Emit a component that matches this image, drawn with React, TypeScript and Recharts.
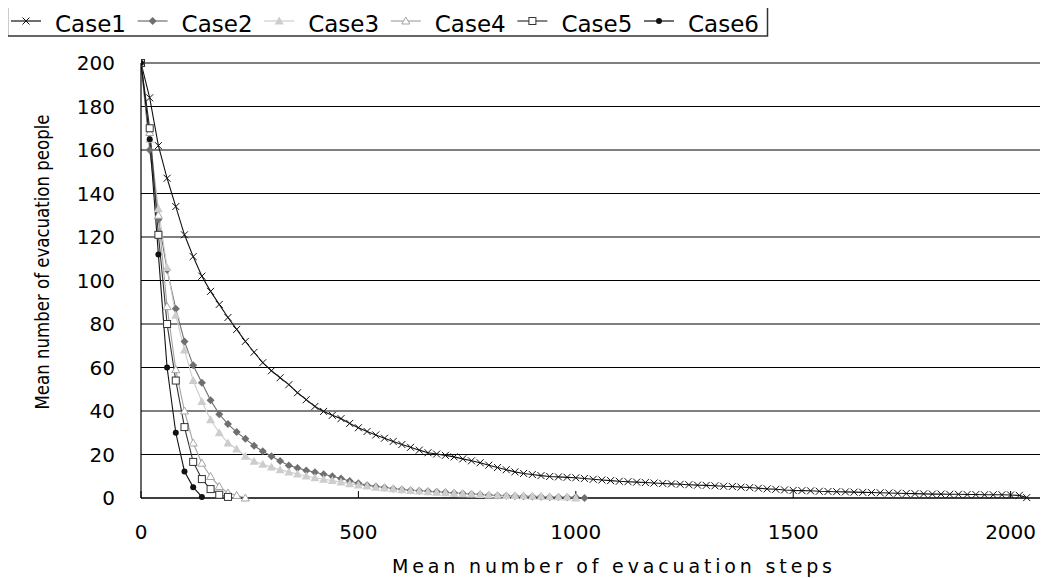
import React from 'react';
import { LineChart, Line, XAxis, YAxis, CartesianGrid, Label } from 'recharts';

// step counts shared by every case (a point every 20 steps)
const steps = [
  0, 20, 40, 60, 80, 100, 120, 140, 160, 180, 200, 220, 240, 260, 280, 300, 320, 340, 360, 380,
  400, 420, 440, 460, 480, 500, 520, 540, 560, 580, 600, 620, 640, 660, 680, 700, 720, 740, 760, 780,
  800, 820, 840, 860, 880, 900, 920, 940, 960, 980, 1000, 1020, 1040, 1060, 1080, 1100, 1120, 1140, 1160, 1180,
  1200, 1220, 1240, 1260, 1280, 1300, 1320, 1340, 1360, 1380, 1400, 1420, 1440, 1460, 1480, 1500, 1520, 1540, 1560, 1580,
  1600, 1620, 1640, 1660, 1680, 1700, 1720, 1740, 1760, 1780, 1800, 1820, 1840, 1860, 1880, 1900, 1920, 1940, 1960, 1980,
  2000, 2020, 2037,
];

const case1 = [
  200, 184, 162, 147, 134, 121, 111, 102, 95, 89, 83, 77.5, 72, 67, 62.2, 58.5, 55.3, 52.1, 48.4, 45.2,
  42.1, 39.8, 38, 36.5, 34.3, 32.3, 30.6, 29, 27.5, 26, 24.6, 23.3, 22, 20.8, 20.2, 19.6, 18.9, 18, 17.1, 16.2,
  15.1, 14, 13, 12, 11.3, 10.8, 10.3, 9.9, 9.7, 9.5, 9.3, 9, 8.6, 8.3, 8, 7.7, 7.5, 7.3, 7.1, 6.9,
  6.7, 6.5, 6.3, 6.1, 5.9, 5.8, 5.6, 5.4, 5.3, 5, 4.8, 4.5, 4.2, 4, 3.7, 3.5, 3.4, 3.3, 3.1, 3,
  2.9, 2.8, 2.7, 2.6, 2.5, 2.4, 2.3, 2.2, 2.1, 2, 1.9, 1.8, 1.8, 1.7, 1.7, 1.6, 1.6, 1.5, 1.5, 1.5,
  1.4, 1.2, 0.2,
];

const case2 = [
  200, 160, 128, 105, 87, 72, 61, 53, 45, 38.5, 34, 30.3, 27.2, 24, 21.5, 19.2, 17, 15, 13.8, 12.7,
  11.8, 10.9, 10, 9, 7.8, 6.8, 5.9, 5.3, 4.8, 4.3, 3.9, 3.6, 3.3, 3.1, 2.9, 2.6, 2.3, 2.1, 1.8, 1.6,
  1.3, 1.1, 1, 0.9, 0.8, 0.7, 0.6, 0.5, 0.5, 0.4, 0.3, 0,
];

const case3 = [
  200, 165, 133, 106, 84, 68, 54, 44.4, 36, 30, 25.3, 22.5, 19.2, 16.9, 15.5, 14.2, 13, 12, 11, 10.1,
  9.3, 8.6, 8, 7.3, 6.6, 6, 5.5, 5, 4.6, 4.2, 3.8, 3.5, 3.2, 2.9, 2.6, 2.4, 2.2, 2, 1.8, 1.6,
  1.4, 1.3, 1.2, 1.1, 1, 0.9, 0.8, 0.7, 0.6, 0.5, 0,
];

const case4 = [200, 168, 130, 88, 59, 40, 25.3, 16, 9.9, 5.3, 2.3, 1.2, 0];

const case5 = [200, 170, 121, 80, 54, 32.6, 16.6, 8.7, 4.1, 1.5, 0.5];

const case6 = [200, 165, 112, 60, 30, 12.2, 5, 0.5];

const caseNames = ['Case1', 'Case2', 'Case3', 'Case4', 'Case5', 'Case6'];
const xTicks = [0, 500, 1000, 1500, 2000];
const yTicks = [0, 20, 40, 60, 80, 100, 120, 140, 160, 180, 200];

const toPoints = (values: number[]) => values.map((y, i) => ({ x: steps[i], y }));

type MarkerKind = 'cross' | 'diamond' | 'triangle' | 'triangleOpen' | 'square' | 'circle';

const series: { name: string; values: number[]; color: string; marker: MarkerKind }[] = [
  { name: caseNames[0], values: case1, color: '#111111', marker: 'cross' },
  { name: caseNames[1], values: case2, color: '#6f6f6f', marker: 'diamond' },
  { name: caseNames[2], values: case3, color: '#cdcdcd', marker: 'triangle' },
  { name: caseNames[3], values: case4, color: '#a5a5a5', marker: 'triangleOpen' },
  { name: caseNames[4], values: case5, color: '#333333', marker: 'square' },
  { name: caseNames[5], values: case6, color: '#111111', marker: 'circle' },
];

const Marker = ({ kind, cx, cy, color }: { kind: MarkerKind; cx: number; cy: number; color: string }) => {
  switch (kind) {
    case 'cross':
      return (
        <path
          d={`M${cx - 3.5},${cy - 3.5}L${cx + 3.5},${cy + 3.5}M${cx - 3.5},${cy + 3.5}L${cx + 3.5},${cy - 3.5}`}
          stroke={color}
          strokeWidth={1}
          fill="none"
        />
      );
    case 'diamond':
      return <path d={`M${cx},${cy - 4}L${cx + 4},${cy}L${cx},${cy + 4}L${cx - 4},${cy}Z`} fill={color} stroke="none" />;
    case 'triangle':
      return <path d={`M${cx},${cy - 4.5}L${cx + 4.5},${cy + 3.5}L${cx - 4.5},${cy + 3.5}Z`} fill={color} stroke="none" />;
    case 'triangleOpen':
      return (
        <path d={`M${cx},${cy - 4}L${cx + 4},${cy + 3}L${cx - 4},${cy + 3}Z`} fill="#fff" stroke={color} strokeWidth={1} />
      );
    case 'square':
      return <rect x={cx - 3.5} y={cy - 3.5} width={7} height={7} fill="#fff" stroke={color} strokeWidth={1} />;
    default:
      return <circle cx={cx} cy={cy} r={3} fill={color} />;
  }
};

const tickStyle = { fontFamily: 'DejaVu Sans', fontSize: 20, fill: '#000' };

const YTitle = () => (
  <text
    x={0}
    y={0}
    transform="translate(41, 254) rotate(-90)"
    textAnchor="middle"
    fontFamily="DejaVu Sans"
    fontSize={19}
    fill="#000"
    textLength={295}
    lengthAdjust="spacingAndGlyphs"
  >
    Mean number of evacuation people
  </text>
);

const XTitle = () => (
  <text
    x={604}
    y={565}
    textAnchor="middle"
    fontFamily="DejaVu Sans"
    fontSize={19}
    fill="#000"
    textLength={440}
    lengthAdjust="spacing"
  >
    Mean number of evacuation steps
  </text>
);

const LegendBox = () => (
  <svg width={800} height={44} style={{ position: 'absolute', left: -8, top: -8 }}>
    <rect x={7.5} y={4.5} width={760} height={31.5} fill="#fff" stroke="#333" strokeWidth={1.5} />
    {series.map((s, i) => {
      const tx = 55 + i * 126.6;
      return (
        <g key={s.name}>
          <line x1={tx - 44} x2={tx - 14} y1={21} y2={21} stroke={s.color} strokeWidth={1.2} />
          <Marker kind={s.marker} cx={tx - 29} cy={21} color={s.color} />
          <text x={tx} y={32} fontFamily="DejaVu Sans" fontSize={23} fill="#000">
            {s.name}
          </text>
        </g>
      );
    })}
  </svg>
);

const App: React.FC = () => {
  return (
    <div style={{ position: 'relative', width: 1040, height: 570 }}>
      <LineChart width={1040} height={570} margin={{ top: 55, right: 0, bottom: 40, left: 73 }}>
        <CartesianGrid vertical={false} stroke="#000" strokeWidth={1} />
        <XAxis
          dataKey="x"
          type="number"
          domain={[0, 2086]}
          ticks={xTicks}
          interval={0}
          allowDataOverflow
          height={40}
          axisLine={{ stroke: '#000', strokeWidth: 1.2 }}
          tickLine={{ stroke: '#000' }}
          tickSize={-7}
          tickMargin={34}
          tick={tickStyle}
        >
          <Label content={XTitle} />
        </XAxis>
        <YAxis
          dataKey="y"
          type="number"
          domain={[0, 200]}
          ticks={yTicks}
          interval={0}
          width={60}
          axisLine={{ stroke: '#000', strokeWidth: 1.2 }}
          tickLine={false}
          tickMargin={20}
          tick={tickStyle}
        >
          <Label content={YTitle} />
        </YAxis>
        {series.map((s) => (
          <Line
            key={s.name}
            data={toPoints(s.values)}
            dataKey="y"
            name={s.name}
            type="linear"
            stroke={s.color}
            strokeWidth={1.1}
            isAnimationActive={false}
            activeDot={false}
            dot={(p: any) => <Marker key={`${s.name}-${p.index}`} kind={s.marker} cx={p.cx} cy={p.cy} color={s.color} />}
          />
        ))}
      </LineChart>
      <LegendBox />
    </div>
  );
};

export default App;
